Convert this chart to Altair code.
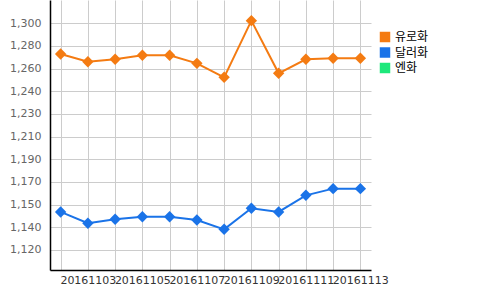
import altair as alt
import pandas as pd

dates = ["20161102", "20161103", "20161104", "20161105", "20161106", "20161107",
         "20161108", "20161109", "20161110", "20161111", "20161112", "20161113"]
series_names = ["유로화", "달러화", "엔화"]
euro = [1273.6, 1267.5, 1269.4, 1272.6, 1272.6, 1266.2, 1255.1, 1300.1, 1258.3, 1269.4, 1270.2, 1270.2]
dollar = [1148.2, 1139.2, 1142.4, 1144.4, 1144.4, 1141.8, 1134.4, 1151.1, 1148.2, 1161.4, 1166.7, 1166.7]
colors = ["#F47B12", "#1A73E8", "#1DE87B"]
y_ticks = [1118, 1136, 1154, 1172, 1190, 1208, 1226, 1244, 1262, 1280, 1298]
y_domain = [1102.1, 1316.5]

rows = []
for d, v in zip(dates, euro):
    rows.append({"date": d, "series": series_names[0], "value": v})
for d, v in zip(dates, dollar):
    rows.append({"date": d, "series": series_names[1], "value": v})
df = pd.DataFrame(rows)

x = alt.X("date:N", sort=dates,
          scale=alt.Scale(type="point", padding=0.39),
          axis=alt.Axis(title=None, labelAngle=0, ticks=False, grid=True, domainColor="#000",
                        domainWidth=1.5, gridColor="#cccccc", labelOverlap=False,
                        labelFont="DejaVu Sans", labelFontSize=11, labelColor="#333",
                        labelPadding=4,
                        labelExpr="toNumber(datum.value) % 2 == 1 ? datum.value : ''"))
y = alt.Y("value:Q",
          scale=alt.Scale(domain=y_domain, nice=False, zero=False),
          axis=alt.Axis(title=None, values=y_ticks, ticks=False, domainColor="#000",
                        domainWidth=1.5, gridColor="#cccccc",
                        labelFont="DejaVu Sans", labelFontSize=11, labelColor="#666",
                        labelPadding=9,
                        labelExpr="format(round(datum.value/10)*10, ',')"))
legend = alt.Legend(title=None, orient="none", legendX=329, legendY=31,
                    symbolType="square", symbolSize=110,
                    symbolStrokeWidth=0, labelFontSize=12,
                    labelFont="Noto Sans CJK KR", labelColor="#000",
                    rowPadding=3.5, padding=0, labelOffset=4)
color = alt.Color("series:N", scale=alt.Scale(domain=series_names, range=colors), legend=legend)

base = alt.Chart(df)
lines = base.mark_line(strokeWidth=2).encode(x=x, y=y, color=color)
points = base.mark_point(shape="diamond", filled=True, size=130, opacity=1).encode(
    x=x, y=y, color=color)

chart = alt.layer(lines, points).properties(
    width=321, height=270,
    autosize=alt.AutoSizeParams(type="none"),
    padding={"left": 50, "top": 0, "right": 129, "bottom": 20},
).configure_view(stroke=None)

chart.save("out.html", embed_options={"renderer": "svg", "actions": False})
